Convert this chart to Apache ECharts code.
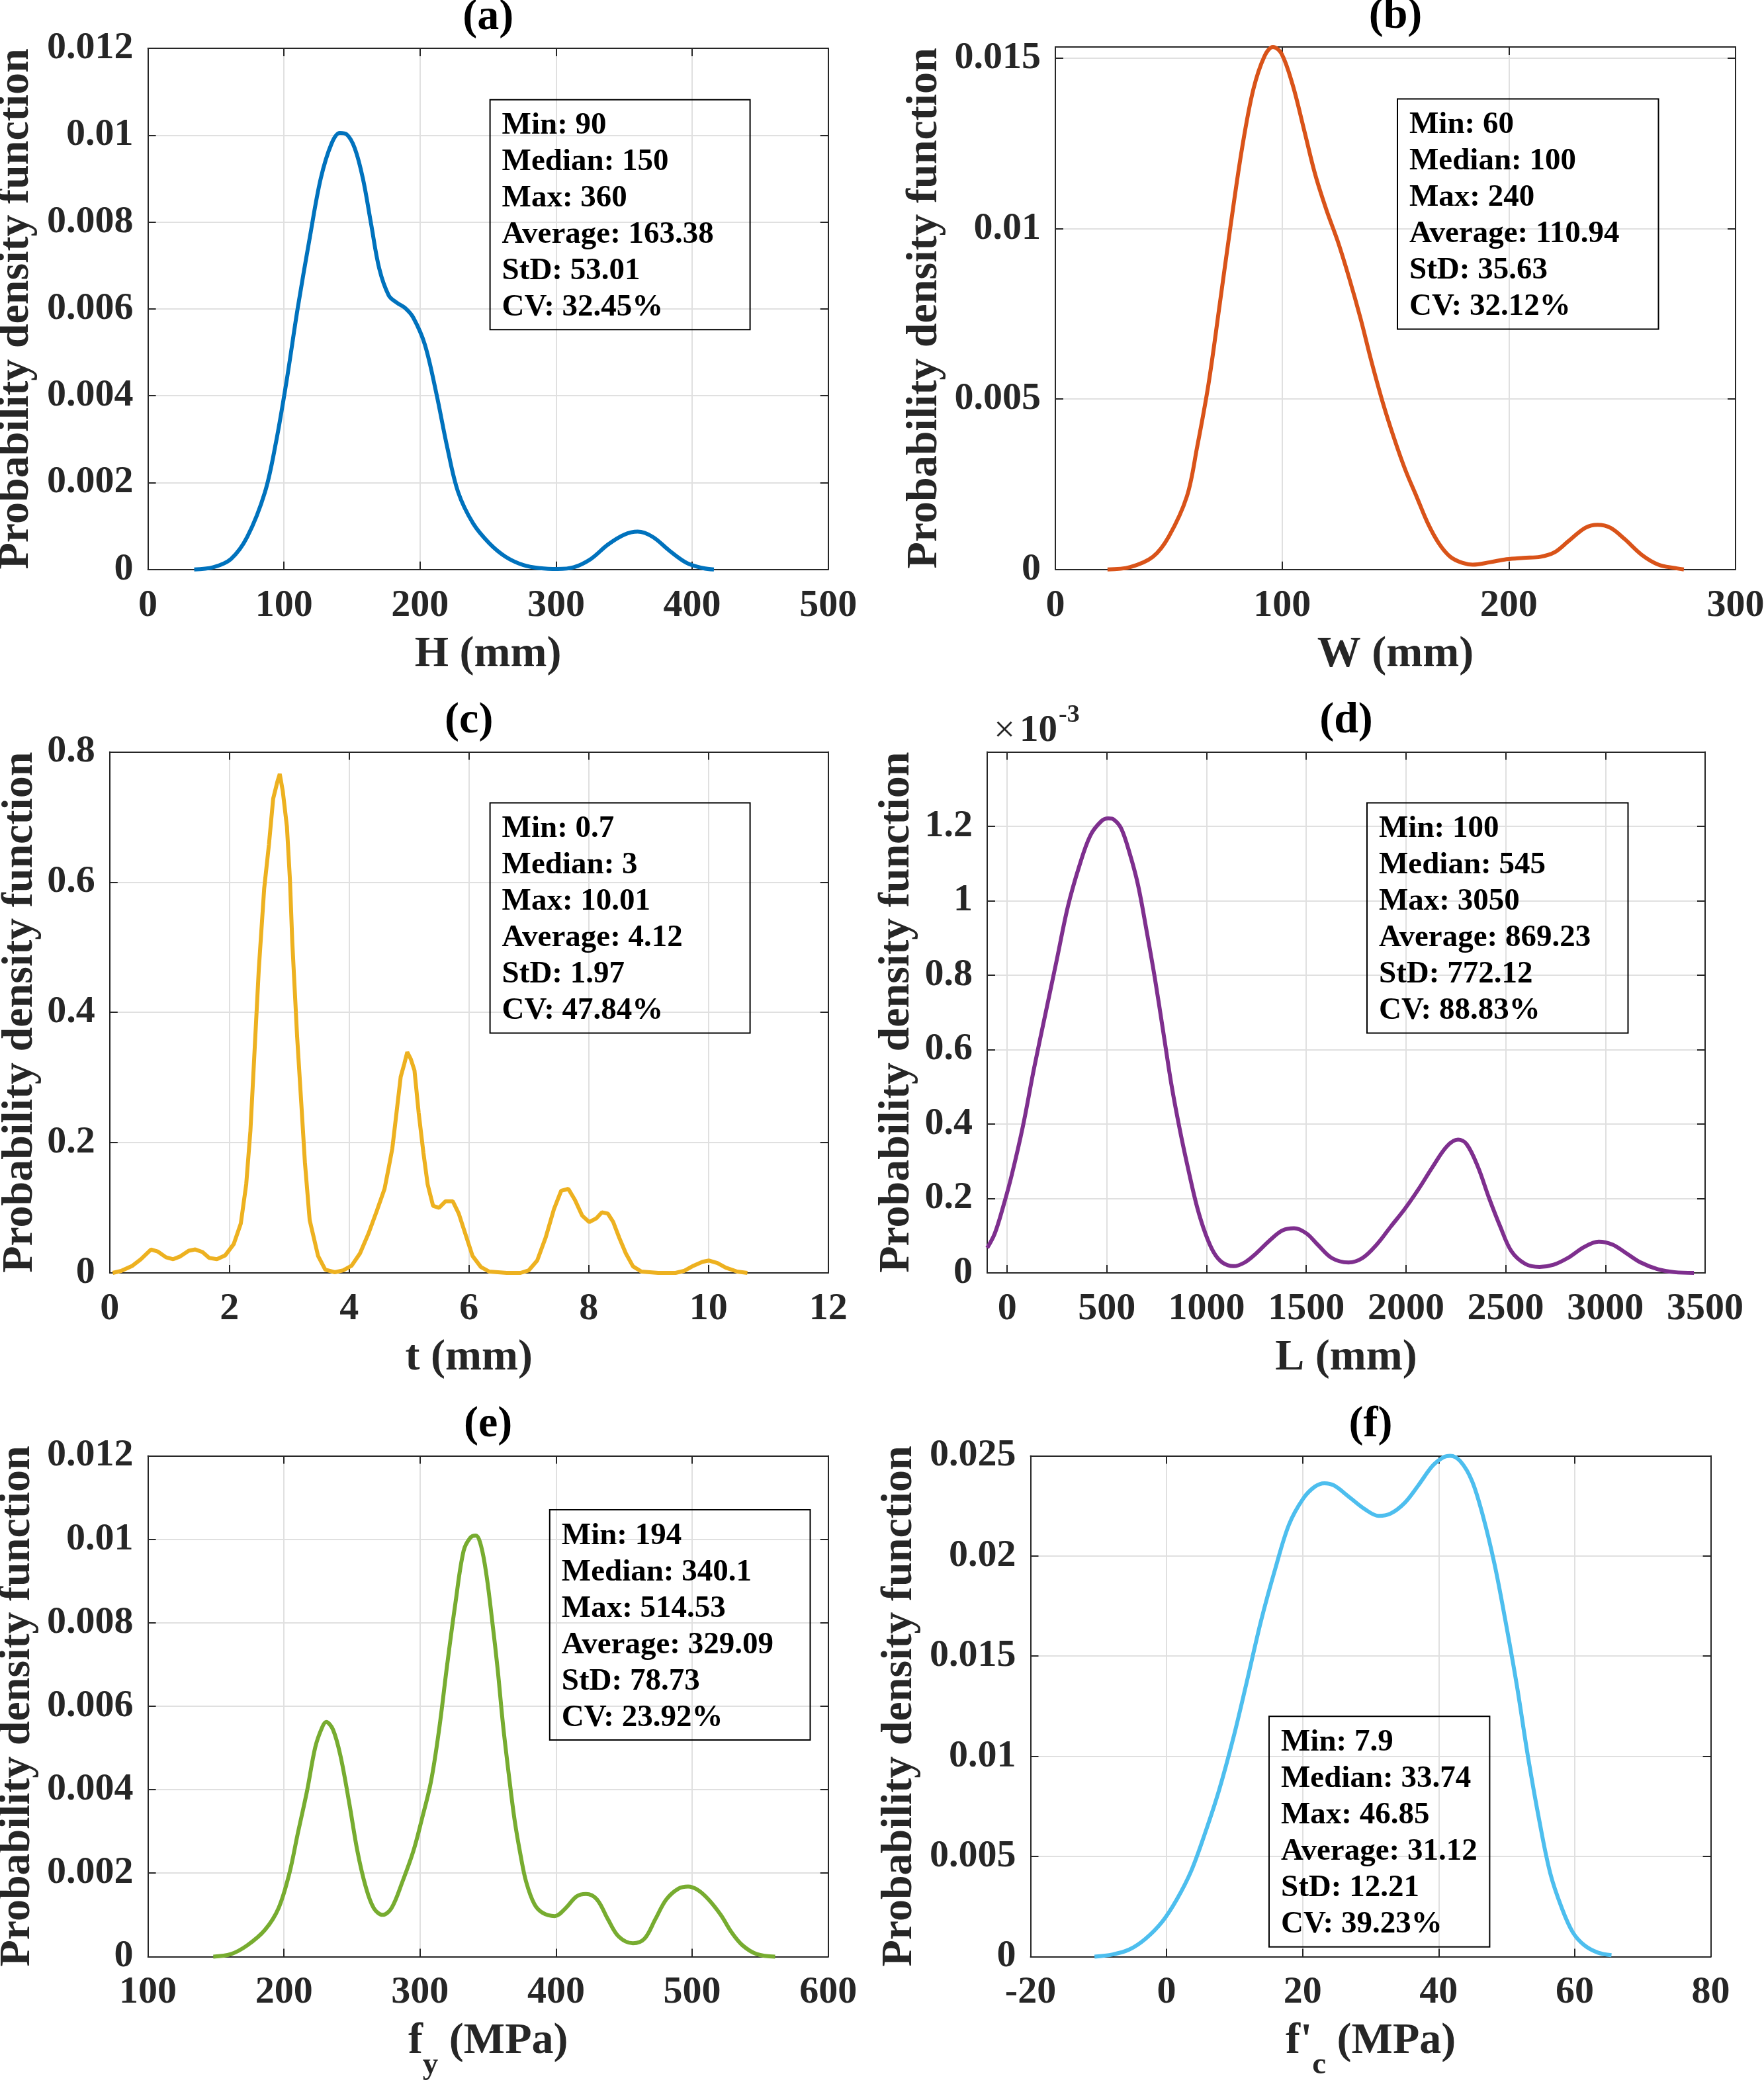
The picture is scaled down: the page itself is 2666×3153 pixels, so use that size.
<!DOCTYPE html>
<html>
<head>
<meta charset="utf-8">
<script src="https://cdn.jsdelivr.net/npm/echarts@6/dist/echarts.min.js"></script>
<style>
html,body{margin:0;padding:0;background:#fff;}
#chart{width:2666px;height:3153px;}
</style>
</head>
<body>
<div id="chart"></div>
<script>
// ---------------- DATA ----------------
const panelTitles = ['(a)', '(b)', '(c)', '(d)', '(e)', '(f)'];
const yName = 'Probability density function';

// (a) H (mm)
const hX   = [34,48,61,73,86,94,102,110,119,127,135,141,146,152,158,164,170,177,183,189,195,203.5,212,220,228,239,251,263,276,288,301,313,325.5,338,350,360,371,383,396,408,416];
const hPdf = [0,0.00005,0.00024,0.00075,0.00178,0.00291,0.00436,0.0060,0.00765,0.0090,0.00981,0.01005,0.01002,0.0097,0.0090,0.00796,0.00693,0.00631,0.00614,0.00602,0.0058,0.00518,0.00405,0.00281,0.00178,0.00106,0.0006,0.00029,0.0001,0.00003,0.00001,0.00005,0.00024,0.00057,0.0008,0.00087,0.00075,0.00044,0.00015,0.00003,0];
const hStats = ['Min: 90','Median: 150','Max: 360','Average: 163.38','StD: 53.01','CV: 32.45%'];

// (b) W (mm)
const wX   = [23,33,43,50,58,62.5,67.5,72.5,77.4,82.4,87.3,92.3,96,99.8,104.7,109.7,114.6,119.6,124.6,129.5,134.5,139.5,144.4,149.4,154.3,159.3,164.3,169.2,174.2,179.2,184.1,191.6,199,206.5,213.9,220.1,226.3,233.7,239.2,244.9,251.1,258.6,266,273.4,277.2];
const wPdf = [0,0.00007,0.00037,0.00096,0.00214,0.00358,0.00542,0.00778,0.01014,0.01238,0.01408,0.01507,0.01533,0.01513,0.01421,0.0129,0.01159,0.01054,0.00962,0.00857,0.00739,0.00608,0.0049,0.00385,0.00293,0.00214,0.00135,0.00076,0.00037,0.0002,0.00014,0.00021,0.0003,0.00034,0.00037,0.0005,0.00083,0.00122,0.00131,0.00122,0.00089,0.00043,0.00014,0.00004,0];
const wStats = ['Min: 60','Median: 100','Max: 240','Average: 110.94','StD: 35.63','CV: 32.12%'];

// (c) t (mm)
const tX   = [0.05,0.19,0.38,0.52,0.69,0.80,0.94,1.06,1.17,1.32,1.43,1.55,1.66,1.79,1.93,2.07,2.19,2.28,2.35,2.42,2.49,2.58,2.66,2.73,2.80,2.84,2.89,2.96,3.01,3.05,3.13,3.20,3.26,3.34,3.48,3.60,3.76,3.90,4.04,4.18,4.32,4.46,4.59,4.65,4.72,4.79,4.86,4.92,4.97,5.03,5.09,5.16,5.24,5.31,5.40,5.50,5.61,5.73,5.83,5.95,6.06,6.20,6.34,6.63,6.86,7.00,7.14,7.28,7.42,7.54,7.66,7.77,7.89,8.01,8.13,8.22,8.32,8.41,8.51,8.62,8.74,8.88,9.16,9.45,9.59,9.75,9.90,10.01,10.15,10.29,10.48,10.65];
const tPdf = [0,0.003,0.011,0.021,0.036,0.033,0.024,0.021,0.025,0.034,0.036,0.032,0.023,0.021,0.027,0.044,0.076,0.136,0.218,0.342,0.466,0.590,0.658,0.728,0.754,0.766,0.740,0.685,0.604,0.507,0.363,0.260,0.170,0.081,0.026,0.005,0.001,0.004,0.011,0.030,0.060,0.095,0.129,0.157,0.191,0.246,0.301,0.321,0.339,0.328,0.311,0.246,0.184,0.136,0.103,0.100,0.110,0.110,0.091,0.057,0.026,0.009,0.002,0,0,0.004,0.019,0.054,0.098,0.126,0.129,0.112,0.088,0.078,0.084,0.093,0.091,0.078,0.054,0.030,0.010,0.002,0,0,0.003,0.011,0.017,0.019,0.015,0.008,0.002,0];
const tStats = ['Min: 0.7','Median: 3','Max: 10.01','Average: 4.12','StD: 1.97','CV: 47.84%'];

// (d) L (mm), density in units of 1e-3
const lX   = [-100,-62,-20,22.5,79,135,191.5,248,304,360.5,417,473,507,535,572,614,656,698,741,783,825,867,910,952,994,1036,1079,1135,1191,1248,1318,1380,1439,1501,1557,1628,1712,1782,1853,1923,1994,2064,2135,2205,2261,2304,2360,2416,2473,2529,2599,2670,2740,2811,2895,2966,3036,3107,3177,3262,3346,3444];
const lPdf = [0.067,0.106,0.178,0.262,0.394,0.550,0.695,0.839,0.983,1.091,1.175,1.214,1.221,1.218,1.194,1.128,1.043,0.923,0.791,0.647,0.502,0.382,0.274,0.178,0.106,0.055,0.028,0.018,0.028,0.052,0.088,0.114,0.120,0.106,0.076,0.040,0.028,0.040,0.076,0.124,0.172,0.226,0.286,0.340,0.358,0.346,0.286,0.202,0.124,0.058,0.024,0.016,0.022,0.040,0.070,0.084,0.076,0.052,0.028,0.010,0.002,0];
const lStats = ['Min: 100','Median: 545','Max: 3050','Average: 869.23','StD: 772.12','CV: 88.83%'];

// (e) fy (MPa)
const fyX   = [148,161,173,186,196,204,210,217,223,228,231,236,241.5,248,254,260,266,272.5,279,287,295,301,308,314,320,326,332,337,341,345,349,353,357,361,365.5,369.6,374,378,384,390,399,407,415,422,430,438,446,456.5,465,473,481,490,497,504,512,521,529,537,547.5,561];
const fyPdf = [0,0.00006,0.00027,0.00064,0.00116,0.002,0.00293,0.00398,0.00502,0.00549,0.00562,0.00544,0.00481,0.00367,0.00252,0.00168,0.00116,0.001,0.00116,0.00179,0.00252,0.00325,0.00419,0.00544,0.00701,0.00847,0.00972,0.01004,0.01009,0.00982,0.0091,0.00805,0.0069,0.00555,0.00429,0.00325,0.00241,0.00179,0.00126,0.00105,0.00097,0.00116,0.00144,0.0015,0.00137,0.0009,0.00048,0.00032,0.00043,0.0009,0.00137,0.00163,0.00168,0.0016,0.00137,0.001,0.00058,0.00027,0.00006,0];
const fyStats = ['Min: 194','Median: 340.1','Max: 514.53','Average: 329.09','StD: 78.73','CV: 23.92%'];

// (f) f'c (MPa)
const fcX   = [-10.6,-7.9,-5.5,-3.1,-0.6,1.5,3.6,5.6,7.7,9.8,11.8,13.9,16,18,20.1,21.8,23.2,24.6,26.7,29.2,31.2,32.9,35,37,39.1,40.7,41.7,43.2,44.9,46.5,48.2,49.8,51.5,53.1,54.8,56.4,58.1,59.7,61.4,63.4,65.4];
const fcPdf = [0,0.00011,0.00035,0.00089,0.00176,0.00285,0.00426,0.00611,0.00829,0.0109,0.01373,0.01678,0.01939,0.02157,0.02287,0.02346,0.02363,0.02352,0.02298,0.02232,0.022,0.02211,0.02265,0.02352,0.0245,0.02493,0.025,0.02472,0.02374,0.022,0.0196,0.01678,0.01351,0.01003,0.00677,0.00416,0.00242,0.00122,0.00057,0.0002,0.00007];
const fcStats = ['Min: 7.9','Median: 33.74','Max: 46.85','Average: 31.12','StD: 12.21','CV: 39.23%'];

// ---------------- LAYOUT / STYLE ----------------
const FONT = '"Liberation Serif","Times New Roman",Times,serif';
const AXC = '#262626';
const GRIDC = '#e0e0e0';
const NFS = 66;   // axis-name font size

const panels = [
  {x:hX, y:hPdf, stats:hStats, color:'#0072BD', smooth:0.35,
   grid:{left:223.6, top:73, width:1028.1, height:787.7},
   xMin:0, xMax:500, xStep:100, yMin:0, yMax:0.012, yStep:0.002,
   xName:'{m|H (mm)}', yGap:166, box:[740.6,150.8,393,347.5]},
  {x:wX, y:wPdf, stats:wStats, color:'#D95319', smooth:0.35,
   grid:{left:1595, top:71, width:1028, height:789.7},
   xMin:0, xMax:300, xStep:100, yMin:0, yMax:0.01533, yStep:0.005,
   xName:'{m|W (mm)}', yGap:164, box:[2112,149.4,394.5,348]},
  {x:tX, y:tPdf, stats:tStats, color:'#EDB120', smooth:false,
   grid:{left:165.8, top:1136.4, width:1085.9, height:787.6},
   xMin:0, xMax:12, xStep:2, yMin:0, yMax:0.8, yStep:0.2,
   xName:'{m|t (mm)}', yGap:102, box:[740.6,1213.5,393,348]},
  {x:lX, y:lPdf, stats:lStats, color:'#7E2F8E', smooth:0.35,
   grid:{left:1492, top:1136.4, width:1085, height:787.6},
   xMin:-100, xMax:3500, xStep:500, yMin:0, yMax:1.4, yStep:0.2, hideYMax:true,
   xName:'{m|L (mm)}', yGap:103.5, box:[2066,1213.5,394.5,348]},
  {x:fyX, y:fyPdf, stats:fyStats, color:'#77AC30', smooth:0.35,
   grid:{left:223.6, top:2200.4, width:1028.1, height:757},
   xMin:100, xMax:600, xStep:100, yMin:0, yMax:0.012, yStep:0.002,
   xName:'{m|f}{s|y}{m| (MPa)}', yGap:164, box:[830.8,2282,393.7,348]},
  {x:fcX, y:fcPdf, stats:fcStats, color:'#4DBEEE', smooth:0.35,
   grid:{left:1557.5, top:2200.4, width:1028.1, height:757},
   xMin:-20, xMax:80, xStep:20, yMin:0, yMax:0.025, yStep:0.005,
   xName:"{m|f'}{s|c}{m| (MPa)}", yGap:164.5, box:[1918,2594.3,333.4,348.5]}
];

function fmt(v){ const r = parseFloat(v.toFixed(6)); return String(r === 0 ? 0 : r); }
function isMult(v, step){ const k = v/step; return Math.abs(k - Math.round(k)) < 1e-6; }
function stepOpts(min, max, step){
  if (isMult(min, step)) return {interval: step};
  return {minInterval: step, maxInterval: step, splitNumber: Math.round((max-min)/step)};
}

const grids = [], xAxes = [], yAxes = [], series = [], graphics = [];

panels.forEach((p, i) => {
  grids.push(Object.assign({outerBoundsMode:'none', containLabel:false}, p.grid));
  const common = (main) => ({
    gridIndex: i, type: 'value',
    axisLine: {show:true, onZero:false, lineStyle:{color:AXC, width:2}},
    axisTick: {show:true, inside:true, length:12, lineStyle:{color:AXC, width:2}},
    splitLine: {show: main, lineStyle:{color:GRIDC, width:2}},
    nameMoveOverlap: false
  });
  const xLab = {show:true, margin:26, color:AXC, fontSize:58, fontWeight:'bold', fontFamily:FONT,
    formatter: v => isMult(v, p.xStep) ? fmt(v) : ''};
  const yLab = {show:true, margin:22, color:AXC, fontSize:58, fontWeight:'bold', fontFamily:FONT,
    formatter: v => (isMult(v, p.yStep) && !(p.hideYMax && Math.abs(v - p.yMax) < 1e-9)) ? fmt(v) : ''};
  xAxes.push(Object.assign(common(true), {position:'bottom', min:p.xMin, max:p.xMax},
    stepOpts(p.xMin, p.xMax, p.xStep), {axisLabel:xLab,
    name:p.xName, nameLocation:'middle', nameGap:96,
    nameTextStyle:{color:AXC, fontSize:NFS, lineHeight:NFS, fontWeight:'bold', fontFamily:FONT,
      rich:{
        m:{fontSize:NFS, lineHeight:NFS, fontWeight:'bold', fontFamily:FONT, color:AXC, verticalAlign:'top'},
        s:{fontSize:47, lineHeight:47, fontWeight:'bold', fontFamily:FONT, color:AXC, verticalAlign:'top', padding:[45,0,0,0]}
      }}}));
  xAxes.push(Object.assign(common(false), {position:'top', min:p.xMin, max:p.xMax},
    stepOpts(p.xMin, p.xMax, p.xStep), {axisLabel:{show:false}}));
  yAxes.push(Object.assign(common(true), {position:'left', min:p.yMin, max:p.yMax},
    stepOpts(p.yMin, p.yMax, p.yStep), {axisLabel:yLab,
    name:yName, nameLocation:'middle', nameGap:p.yGap,
    nameTextStyle:{color:AXC, fontSize:NFS, lineHeight:NFS, fontWeight:'bold', fontFamily:FONT}}));
  yAxes.push(Object.assign(common(false), {position:'right', min:p.yMin, max:p.yMax},
    stepOpts(p.yMin, p.yMax, p.yStep), {axisLabel:{show:false}}));

  series.push({
    type:'line', xAxisIndex: 2*i, yAxisIndex: 2*i,
    data: p.x.map((xv, k) => [xv, p.y[k]]),
    showSymbol:false, symbol:'none', smooth:p.smooth,
    clip:false, lineStyle:{color:p.color, width:6}, itemStyle:{color:p.color}, z:5
  });

  const cx = p.grid.left + p.grid.width/2;
  graphics.push({type:'text', x: cx, y: p.grid.top - 26 - 20, z:50,
    style:{text: panelTitles[i], fontSize:66, fontWeight:'bold', fontFamily:FONT, fill:'#000',
      align:'center', verticalAlign:'middle'}});

  const b = p.box;
  graphics.push({type:'rect', z:50, shape:{x:b[0], y:b[1], width:b[2], height:b[3]},
    style:{fill:'rgba(0,0,0,0)', stroke:'#000', lineWidth:2}});
  graphics.push({type:'text', x: b[0] + 18, y: b[1] + 12, z:51,
    style:{text: p.stats.join('\n'), fontSize:47, lineHeight:55, fontWeight:'bold', fontFamily:FONT, fill:'#000',
      align:'left', verticalAlign:'top'}});
});

// exponent label for (d): "×10^-3"
graphics.push({type:'text', x:1502, y:1105.6, z:50,
  style:{text:'×', fontSize:57, fontWeight:'normal', fontFamily:FONT, fill:AXC, align:'left', verticalAlign:'middle'}});
graphics.push({type:'text', x:1541, y:1105.6, z:50,
  style:{text:'10', fontSize:57, fontWeight:'bold', fontFamily:FONT, fill:AXC, align:'left', verticalAlign:'middle'}});
graphics.push({type:'text', x:1600, y:1081.4, z:50,
  style:{text:'-3', fontSize:38, fontWeight:'bold', fontFamily:FONT, fill:AXC, align:'left', verticalAlign:'middle'}});

const chart = echarts.init(document.getElementById('chart'), null, {renderer:'canvas', width:2666, height:3153});
chart.setOption({
  backgroundColor:'#fff',
  animation:false,
  grid: grids,
  xAxis: xAxes,
  yAxis: yAxes,
  series: series,
  graphic: graphics
});
</script>
</body>
</html>
